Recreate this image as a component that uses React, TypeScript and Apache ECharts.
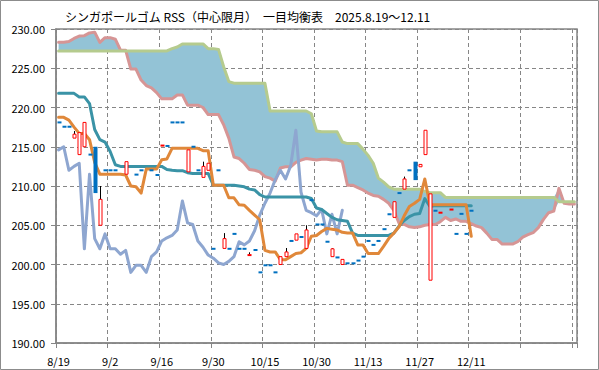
import React, { useEffect, useRef } from 'react';
import * as echarts from 'echarts';

const FONT = '"Noto Sans CJK JP", "Noto Sans", sans-serif';

const titleText = 'シンガポールゴム RSS（中心限月）　一目均衡表　2025.8.19～12.11';

// trading days (index 0..80); the cloud runs 20 slots further into the future
const dates = [
  '8/19', '8/20', '8/21', '8/22', '8/25', '8/26', '8/27', '8/28', '8/29', '9/1',
  '9/2', '9/3', '9/4', '9/5', '9/8', '9/9', '9/10', '9/11', '9/12', '9/15',
  '9/16', '9/17', '9/18', '9/19', '9/22', '9/23', '9/24', '9/25', '9/26', '9/29',
  '9/30', '10/1', '10/2', '10/3', '10/6', '10/7', '10/8', '10/9', '10/10', '10/14',
  '10/15', '10/16', '10/17', '10/21', '10/22', '10/23', '10/24', '10/27', '10/28', '10/29',
  '10/30', '10/31', '11/3', '11/4', '11/5', '11/6', '11/7', '11/10', '11/11', '11/12',
  '11/13', '11/14', '11/17', '11/18', '11/19', '11/20', '11/21', '11/24', '11/25', '11/26',
  '11/27', '11/28', '12/1', '12/2', '12/3', '12/4', '12/5', '12/8', '12/9', '12/10',
  '12/11',
];
const futureSlots = 20;

const candleOpen = [
  218.1, 217.55, 217.55, 216.1, 214.0, 215.0, 214.0, 215.0, 205.0, 212.0,
  212.0, 212.0, null, 211.5, null, 211.45, 212.0, null, 212.0, 211.4,
  215.1, 215.1, 218.1, 218.1, 218.1, 211.8, 215.0, 212.0, 211.1, 212.0,
  202.0, 212.0, 202.05, 202.0, 203.9, 202.0, 202.0, 201.1, 201.85, 199.0,
  199.9, 199.9, 199.0, 200.0, 201.0, 203.0, 203.1, 203.5, 202.05, 208.2,
  205.1, 205.1, 202.9, 201.0, 200.9, 200.0, 200.15, 200.15, 200.5, 201.0,
  203.0, 202.5, 203.0, 204.5, 206.4, 206.0, 209.1, 209.6, 212.0, 213.1,
  212.45, 214.0, 198.0, 206.85, 206.55, null, 206.95, 203.9, 206.45, 203.9,
  206.85,
];
const candleClose = [
  218.1, 217.55, 217.55, 216.6, 216.8, 218.1, 214.0, 209.1, 208.3, 212.0,
  212.0, 212.0, null, 213.1, null, 211.45, 212.0, null, 212.0, 211.4,
  215.2, 215.1, 218.1, 218.1, 218.1, 214.6, 215.0, 212.0, 212.5, 212.9,
  202.0, 212.0, 203.3, 202.0, 203.9, 202.0, 202.0, 201.3, 201.85, 199.0,
  199.9, 199.9, 199.0, 201.0, 201.6, 203.0, 203.9, 203.5, 204.4, 208.2,
  205.1, 205.1, 202.9, 202.0, 200.9, 200.65, 200.15, 200.15, 200.5, 201.0,
  203.0, 202.5, 203.0, 204.5, 206.4, 208.0, 209.1, 210.9, 212.0, 210.75,
  212.75, 217.1, 209.0, 206.85, 206.65, null, 207.05, 203.9, 206.45, 203.9,
  206.85,
];
const candleLow = [
  218.1, 217.55, 217.55, 216.1, 214.0, 215.0, 214.0, 209.1, 205.0, 212.0,
  212.0, 212.0, null, 211.5, null, 211.45, 212.0, null, 212.0, 211.4,
  215.1, 215.1, 218.1, 218.1, 218.1, 211.8, 215.0, 212.0, 211.1, 212.0,
  202.0, 212.0, 202.05, 202.0, 203.9, 202.0, 202.0, 201.1, 201.85, 199.0,
  199.9, 199.9, 199.0, 200.0, 201.0, 203.0, 203.1, 203.5, 202.05, 208.2,
  205.1, 205.1, 202.9, 201.0, 200.9, 200.0, 200.15, 200.15, 200.5, 201.0,
  203.0, 202.5, 203.0, 204.5, 206.4, 206.0, 209.1, 209.6, 212.0, 210.75,
  212.45, 214.0, 198.0, 206.85, 206.55, null, 206.95, 203.9, 206.45, 203.9,
  206.85,
];
const candleHigh = [
  218.1, 217.55, 217.55, 217.0, 216.8, 218.1, 214.0, 215.0, 210.0, 212.0,
  212.0, 212.0, null, 213.1, null, 211.45, 212.0, null, 212.0, 211.4,
  215.2, 215.1, 218.1, 218.1, 218.1, 214.6, 215.0, 212.0, 213.1, 212.9,
  202.0, 212.0, 204.0, 202.0, 203.9, 202.0, 202.0, 201.55, 201.85, 199.0,
  199.9, 199.9, 199.0, 201.0, 202.1, 203.0, 203.9, 203.5, 205.0, 208.2,
  205.1, 205.1, 202.9, 202.1, 200.9, 200.65, 200.15, 200.15, 200.5, 201.0,
  203.0, 202.5, 203.0, 204.5, 206.4, 208.0, 209.1, 211.2, 212.0, 213.1,
  212.75, 217.1, 209.0, 206.85, 206.65, null, 207.05, 203.9, 206.45, 203.9,
  206.85,
];

const tenkan = [
  218.75, 218.75, 218.4, 217.5, 216.7, 216.7, 215.9, 213.0, 211.5, 211.5,
  211.5, 211.5, 211.5, 211.4, 210.0, 209.9, 209.1, 212.15, 212.15, 212.15,
  213.35, 213.45, 214.8, 214.8, 214.8, 214.8, 214.8, 214.8, 214.5, 214.5,
  210.1, 210.1, 210.1, 208.5, 208.5, 207.6, 207.55, 206.9, 206.3, 205.7,
  201.8, 201.6, 201.6, 200.6, 200.6, 201.0, 201.4, 201.5, 202.05, 203.6,
  203.7, 204.2, 204.6, 204.5, 204.4, 204.1, 204.0, 204.0, 202.5, 202.5,
  201.4, 201.4, 201.4, 202.3, 203.3, 204.0, 204.8, 206.2, 207.4, 207.8,
  208.3, 210.9, 207.6, 207.6, 207.6, 207.6, 207.6, 207.6, 207.6, 207.6,
  203.6,
];

const kijun = [
  221.8, 221.8, 221.8, 221.8, 221.35, 221.35, 220.5, 217.2, 215.9, 215.6,
  214.4, 212.7, 212.5, 212.5, 212.5, 212.5, 212.5, 212.5, 212.5, 212.5,
  212.5, 212.1, 212.0, 211.95, 211.95, 211.7, 211.6, 211.6, 211.6, 211.6,
  210.1, 210.1, 210.1, 210.1, 210.1, 210.0, 209.9, 209.6, 209.5, 208.9,
  208.6, 208.6, 208.6, 208.6, 208.6, 208.6, 208.6, 208.6, 208.6, 208.4,
  207.2, 207.0, 206.5, 206.0, 205.7, 205.6, 205.5, 204.0, 203.7, 203.7,
  203.7, 203.7, 203.7, 203.7, 203.7, 204.0, 204.9, 205.6, 206.1, 206.4,
  206.5, 208.4, 207.4, 207.5, 207.5, 207.5, 207.5, 207.5, 207.5, 207.5,
  207.5,
];

const chikou = [
  214.6, 215.0, 212.0, 212.5, 212.9, 202.0, 211.5, 203.3, 202.0, 203.9,
  202.0, 202.0, 201.3, 201.8, 199.0, 199.9, 199.9, 199.0, 201.0, 201.6,
  203.0, 203.4, 203.7, 204.4, 208.1, 205.3, 205.1, 203.0, 202.2, 201.2,
  200.8, 200.2, 200.0, 200.4, 201.0, 202.9, 202.5, 203.0, 204.3, 206.3,
  207.8, 209.1, 210.8, 212.0, 210.9, 212.6, 217.1, 209.2, 206.9, 206.6,
  206.2, 207.0, 203.9, 206.4, 203.9, 206.9,
];

const senkouA = [
  227.2, 227.2, 227.2, 227.2, 227.2, 227.2, 227.2, 227.2, 227.2, 227.2,
  227.2, 227.2, 227.2, 227.2, 227.2, 227.2, 227.2, 227.2, 227.2, 227.2,
  227.2, 227.2, 227.5, 227.7, 228.1, 228.1, 228.1, 228.1, 228.1, 227.5,
  227.5, 227.4, 225.2, 223.3, 223.1, 223.1, 223.1, 223.1, 223.1, 223.1,
  223.1, 219.55, 219.55, 219.55, 219.55, 219.55, 219.55, 219.55, 219.55, 219.2,
  217.0, 216.9, 216.9, 216.9, 216.9, 215.6, 215.4, 215.4, 215.4, 214.7,
  213.9, 212.9, 211.0, 210.5, 209.9, 209.6, 209.6, 209.6, 209.6, 209.6,
  209.6, 209.3, 209.15, 209.15, 209.15, 208.55, 208.55, 208.55, 208.55, 208.55,
  208.55, 208.55, 208.55, 208.55, 208.55, 208.55, 208.55, 208.55, 208.55, 208.55,
  208.55, 208.55, 208.55, 208.55, 208.55, 208.55, 208.55, 208.0, 208.0, 208.0,
  208.0,
];

const senkouB = [
  228.3, 228.3, 228.4, 228.8, 229.1, 229.15, 229.5, 229.6, 228.3, 228.9,
  228.9, 228.7, 227.3, 227.3, 224.9, 224.9, 223.5, 222.8, 222.5, 221.9,
  221.1, 221.1, 221.1, 221.6, 221.6, 220.3, 220.3, 220.3, 220.0, 219.1,
  219.1, 219.1, 217.8, 216.1, 213.7, 213.5, 212.9, 212.1, 212.0, 211.8,
  211.2, 211.0, 210.6, 212.3, 212.45, 212.45, 213.0, 213.3, 213.5, 213.4,
  213.3, 213.4, 213.4, 213.3, 213.3, 213.1, 210.1, 210.1, 209.8, 209.5,
  209.1, 208.8, 208.7, 208.3, 207.8, 206.9, 205.25, 205.1, 204.8, 204.7,
  204.8, 205.0, 205.1, 205.1, 205.45, 206.0, 205.6, 205.8, 205.5, 205.5,
  205.2, 204.9, 204.7, 204.0, 203.2, 203.2, 202.6, 202.6, 202.6, 202.9,
  203.5, 203.8, 204.05, 204.7, 205.75, 206.6, 206.8, 209.7, 207.8, 207.7,
  207.7,
];

const yMin = 190;
const yMax = 230;
const yStep = 5;

export default function App() {
  const ref = useRef<HTMLDivElement>(null);

  useEffect(() => {
    if (!ref.current) return;
    const chart = echarts.init(ref.current, undefined, { renderer: 'svg' });

    const categories = dates.concat(new Array(futureSlots).fill(''));
    const cloudLow = senkouA.map((a, i) => Math.min(a, senkouB[i]));
    const cloudBand = senkouA.map((a, i) => Math.abs(a - senkouB[i]));
    const candleData: number[][] = [];
    candleOpen.forEach((o, i) => {
      if (o == null) return;
      candleData.push([i, o, candleClose[i] as number, candleLow[i] as number, candleHigh[i] as number]);
    });

    const lineCommon = {
      type: 'line',
      symbol: 'none',
      silent: true,
      animation: false,
    };

    const option: any = {
      animation: false,
      title: {
        text: titleText,
        left: 60,
        top: 5,
        textStyle: { fontSize: 12, fontWeight: 'normal', color: '#000', fontFamily: FONT },
      },
      grid: {
        left: 56,
        right: 22,
        top: 29,
        bottom: 27,
        show: true,
        borderColor: '#868686',
        borderWidth: 1.5,
        backgroundColor: 'transparent',
      },
      xAxis: {
        type: 'category',
        data: categories,
        boundaryGap: true,
        axisLine: { show: true, lineStyle: { color: '#868686', width: 1.5 } },
        axisTick: { show: true, interval: 9, length: 5, lineStyle: { color: '#868686' } },
        axisLabel: { interval: 9, color: '#000', fontSize: 11, margin: 12, fontFamily: FONT },
        splitLine: { show: true, interval: 9, lineStyle: { color: '#868686', type: [4, 3], width: 1 } },
      },
      yAxis: {
        type: 'value',
        min: yMin,
        max: yMax,
        interval: yStep,
        axisLine: { show: true, lineStyle: { color: '#868686', width: 1.5 } },
        axisTick: { show: true, length: 5, lineStyle: { color: '#868686' } },
        axisLabel: {
          color: '#000',
          fontSize: 11,
          margin: 11,
          fontFamily: FONT,
          formatter: (v: number) => v.toFixed(2),
        },
        splitLine: { show: true, lineStyle: { color: '#868686', type: [4, 3], width: 1 } },
      },
      graphic: [
        {
          type: 'rect',
          silent: true,
          shape: { x: 0.5, y: 0.5, width: 598, height: 369 },
          style: { fill: 'none', stroke: '#8c8c8c', lineWidth: 1 },
        },
      ],
      series: [
        {
          ...lineCommon,
          name: 'cloudLow',
          stack: 'cloud',
          data: cloudLow,
          lineStyle: { opacity: 0, width: 0 },
          z: 1,
        },
        {
          ...lineCommon,
          name: 'cloud',
          stack: 'cloud',
          data: cloudBand,
          lineStyle: { opacity: 0, width: 0 },
          areaStyle: { color: '#93C3D6', opacity: 1 },
          z: 1,
        },
        {
          ...lineCommon,
          name: '先行スパンB',
          data: senkouB,
          lineStyle: { color: '#D69595', width: 3, join: 'round', cap: 'round' },
          z: 2,
        },
        {
          ...lineCommon,
          name: '先行スパンA',
          data: senkouA,
          lineStyle: { color: '#B5CB8E', width: 3, join: 'round', cap: 'round' },
          z: 2,
        },
        {
          ...lineCommon,
          name: '遅行スパン',
          data: chikou,
          lineStyle: { color: '#8EA6D0', width: 3, join: 'round', cap: 'round' },
          z: 3,
        },
        {
          ...lineCommon,
          name: '基準線',
          data: kijun,
          lineStyle: { color: '#3A93A6', width: 3, join: 'round', cap: 'round' },
          z: 4,
        },
        {
          ...lineCommon,
          name: '転換線',
          data: tenkan,
          lineStyle: { color: '#E0883A', width: 3, join: 'round', cap: 'round' },
          z: 5,
        },
        {
          type: 'custom',
          name: 'candles',
          z: 6,
          silent: true,
          data: candleData,
          encode: { x: 0, y: [1, 2, 3, 4] },
          renderItem: (params: any, api: any) => {
            const i = api.value(0);
            const o = api.value(1);
            const c = api.value(2);
            const l = api.value(3);
            const h = api.value(4);
            const up = c > o;
            const pTop = api.coord([i, Math.max(o, c)]);
            const pBot = api.coord([i, Math.min(o, c)]);
            const pH = api.coord([i, h]);
            const pL = api.coord([i, l]);
            const x = Math.round(pTop[0]);
            let top = pTop[1];
            let bot = pBot[1];
            const children: any[] = [];
            if (pH[1] < top - 0.5) {
              children.push({
                type: 'line',
                shape: { x1: x + 0.5, y1: pH[1], x2: x + 0.5, y2: top },
                style: { stroke: '#000', lineWidth: 1 },
              });
            }
            if (pL[1] > bot + 0.5) {
              children.push({
                type: 'line',
                shape: { x1: x + 0.5, y1: bot, x2: x + 0.5, y2: pL[1] },
                style: { stroke: '#000', lineWidth: 1 },
              });
            }
            if (bot - top < 2) {
              const m = (top + bot) / 2;
              top = m - 1;
              bot = m + 1;
              children.push({
                type: 'rect',
                shape: { x: x - 1.5, y: top, width: 4, height: 2 },
                style: { fill: up ? '#FF0000' : '#0070C0' },
              });
            } else if (up) {
              children.push({
                type: 'rect',
                shape: { x: x - 1, y: top, width: 3, height: bot - top },
                style: { fill: '#FFFFFF', stroke: '#FF0000', lineWidth: 1 },
              });
            } else {
              children.push({
                type: 'rect',
                shape: { x: x - 1.5, y: top, width: 4, height: bot - top },
                style: { fill: '#0070C0' },
              });
            }
            return { type: 'group', children };
          },
        },
      ],
    };

    chart.setOption(option);
    return () => {
      chart.dispose();
    };
  }, []);

  return (
    <div
      ref={ref}
      style={{ position: 'absolute', left: 0, top: 0, width: 599, height: 370, background: '#fff' }}
    />
  );
}
